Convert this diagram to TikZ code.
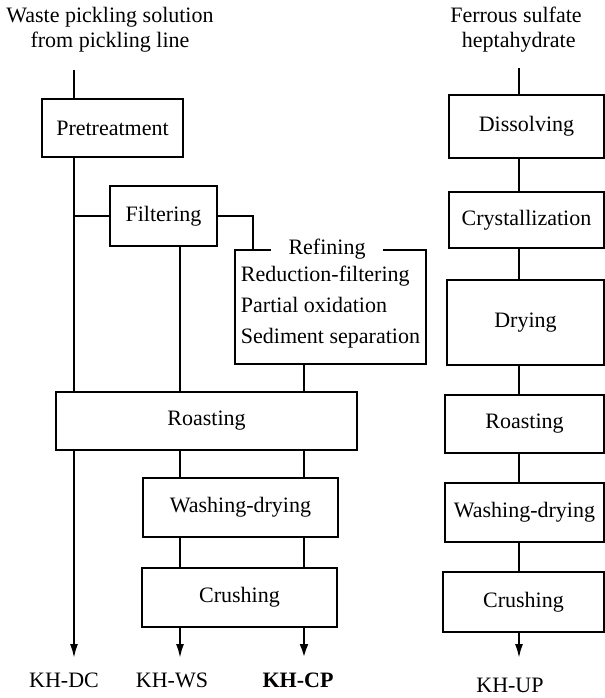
\documentclass[tikz,border=0pt]{standalone}
\usepackage{fontspec}
\setmainfont{Liberation Serif}
\usetikzlibrary{arrows.meta}
\begin{document}
\begin{tikzpicture}[
  x=0.5pt, y=-0.5pt,
  every node/.style={font=\fontsize{11}{15.5}\selectfont},
  src/.style={align=center, font=\fontsize{11}{12.5}\selectfont},
  proc/.style={draw, line width=1.1pt, inner sep=0pt},
  e/.style={line width=1pt},
  prodarrow/.style={line width=1pt, -{Latex[length=7pt,width=4pt]}},
  prodarrowb/.style={line width=1.4pt, -{Latex[length=7pt,width=4.5pt]}}
]
\useasboundingbox (0,0) rectangle (605,698);

% --- raw materials ---
\node[src] (waste) at (110,30) {Waste pickling solution\\from pickling line};
\node[src] (ferr)  at (516,30) {Ferrous sulfate\\\ heptahydrate};

% --- left line (pickling solution) ---
\node[proc, minimum width=70.5pt, minimum height=29pt]   (pre)    at (112.5,128) {Pretreatment};
\node[proc, minimum width=53.5pt, minimum height=30pt]   (filt)   at (163.5,216) {Filtering};
\node[proc, minimum width=95.5pt, minimum height=57pt, align=left] (refi) at (330.5,307)
  {Reduction-filtering\\Partial oxidation\\Sediment separation};
\node[fill=white, inner xsep=9pt, inner ysep=1pt] (refT) at (327,249) {Refining};
\node[proc, minimum width=150.5pt, minimum height=29pt]  (roast1) at (206.5,421) {Roasting};
\node[proc, minimum width=97.5pt, minimum height=29.5pt] (wash1)  at (240.5,507.5) {Washing-drying};
\node[proc, minimum width=97.5pt, minimum height=29.5pt] (crush1) at (239.5,597.5) {Crushing};

% --- right line (ferrous sulfate) ---
\node[proc, minimum width=77.5pt, minimum height=31.5pt] (diss)   at (526.5,126.5) {Dissolving};
\node[proc, minimum width=77.5pt, minimum height=28pt]   (cryst)  at (526.5,220) {Crystallization};
\node[proc, minimum width=78.5pt, minimum height=42.5pt] (dry)    at (525.5,322.5) {Drying};
\node[proc, minimum width=79.5pt, minimum height=29pt]   (roast2) at (524.5,424) {Roasting};
\node[proc, minimum width=79.5pt, minimum height=29.5pt] (wash2)  at (524.5,512.5) {Washing-drying};
\node[proc, minimum width=80.5pt, minimum height=30pt]   (crush2) at (523.5,602) {Crushing};

% --- products ---
\node (dc) at (64,680)  {KH-DC};
\node (ws) at (172,680) {KH-WS};
\node (cp) at (298,680) {\bfseries KH-CP};
\node (up) at (510,685) {KH-UP};

% --- flow lines ---
\coordinate (w0) at (74,70);
\coordinate (f0) at (519,68);
\coordinate (c1) at (180,0);
\coordinate (c2) at (304,0);
\coordinate (r0) at (253,0);
\coordinate (tip) at (0,658);

% left line
\draw[e] (w0) -- (w0 |- pre.north);
\draw[e] (w0 |- pre.south) -- (w0 |- roast1.north);
\draw[e] (w0 |- filt.west) -- (filt.west);
\draw[e] (filt.east) -| (r0 |- refi.north);
\draw[e] (c1 |- filt.south) -- (c1 |- roast1.north);
\draw[e] (c2 |- refi.south) -- (c2 |- roast1.north);
\draw[e] (c1 |- roast1.south) -- (c1 |- wash1.north);
\draw[e] (c2 |- roast1.south) -- (c2 |- wash1.north);
\draw[e] (c1 |- wash1.south) -- (c1 |- crush1.north);
\draw[e] (c2 |- wash1.south) -- (c2 |- crush1.north);

% products of the left line
\draw[prodarrow]  (w0 |- roast1.south) -- (w0 |- tip);
\draw[prodarrow]  (c1 |- crush1.south) -- (c1 |- tip);
\draw[prodarrowb] (c2 |- crush1.south) -- (c2 |- tip);

% right line
\draw[e] (f0) -- (f0 |- diss.north);
\draw[e] (f0 |- diss.south) -- (f0 |- cryst.north);
\draw[e] (f0 |- cryst.south) -- (f0 |- dry.north);
\draw[e] (f0 |- dry.south) -- (f0 |- roast2.north);
\draw[e] (f0 |- roast2.south) -- (f0 |- wash2.north);
\draw[e] (f0 |- wash2.south) -- (f0 |- crush2.north);
\draw[prodarrow] (f0 |- crush2.south) -- (f0 |- tip);

\end{tikzpicture}
\end{document}
